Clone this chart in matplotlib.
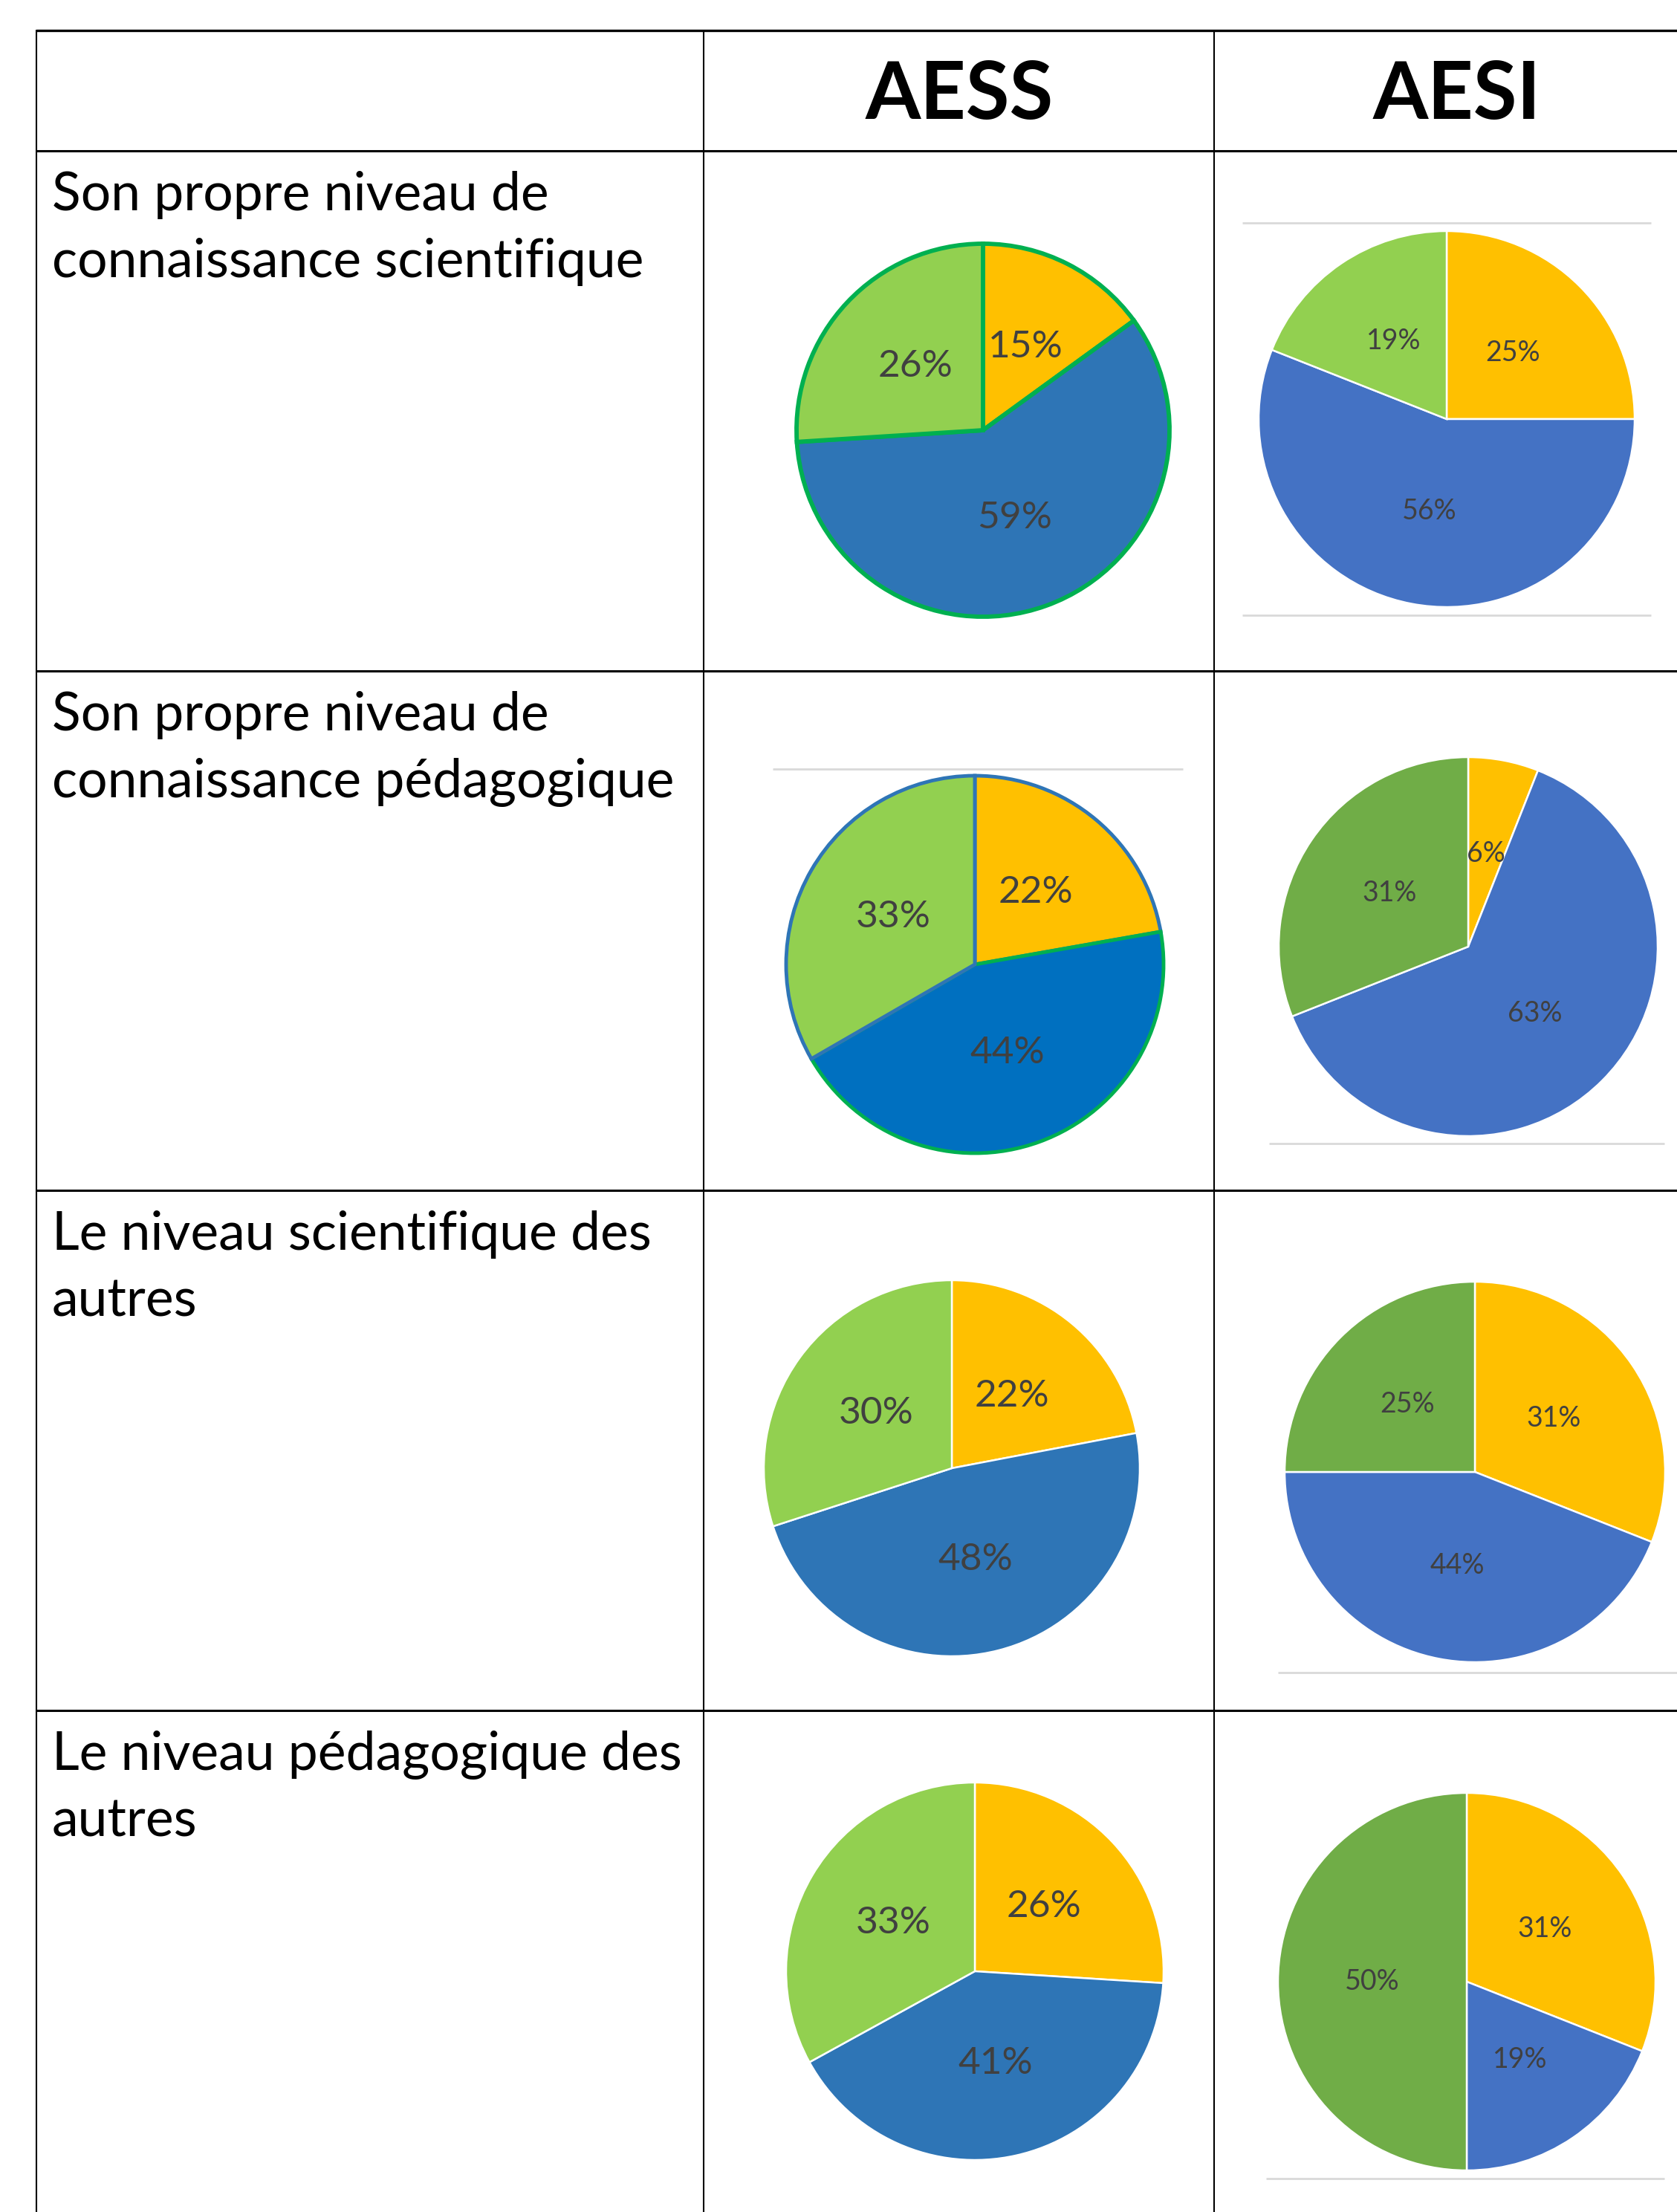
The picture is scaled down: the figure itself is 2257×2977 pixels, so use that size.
import matplotlib
matplotlib.use("Agg")
import matplotlib.pyplot as plt

W, H = 2257, 2977
DPI = 100

columns = ["AESS", "AESI"]
row_labels = [
    ["Son propre niveau de", "connaissance scientifique"],
    ["Son propre niveau de", "connaissance pédagogique"],
    ["Le niveau scientifique des", "autres"],
    ["Le niveau pédagogique des", "autres"],
]
# values in order: yellow, blue, green (clockwise from 12 o'clock)
aess_values = [[15, 59, 26], [22, 44, 33], [22, 48, 30], [26, 41, 33]]
aesi_values = [[25, 56, 19], [6, 63, 31], [31, 44, 25], [31, 19, 50]]

aess_colors = [
    ["#FFC000", "#2E75B6", "#92D050"],
    ["#FFC000", "#0070C0", "#92D050"],
    ["#FFC000", "#2E75B6", "#92D050"],
    ["#FFC000", "#2E75B6", "#92D050"],
]
aesi_colors = [
    ["#FFC000", "#4472C4", "#92D050"],
    ["#FFC000", "#4472C4", "#70AD47"],
    ["#FFC000", "#4472C4", "#70AD47"],
    ["#FFC000", "#4472C4", "#70AD47"],
]

FONT = ["Lato", "DejaVu Sans"]
plt.rcParams["font.family"] = FONT

fig = plt.figure(figsize=(W / DPI, H / DPI), dpi=DPI)
fig.patch.set_facecolor("white")
ax0 = fig.add_axes([0, 0, 1, 1])
ax0.set_xlim(0, W)
ax0.set_ylim(H, 0)
ax0.axis("off")

# table grid
x_left, x_c1, x_c2, x_right = 49, 947, 1634, 2300
row_tops = [203, 903, 1602, 2302]
ax0.plot([x_left, x_right], [41, 41], color="black", lw=2.4, solid_capstyle="butt")
for y in row_tops:
    ax0.plot([x_left, x_right], [y, y], color="black", lw=2.2, solid_capstyle="butt")
for x in [x_left, x_c1, x_c2]:
    ax0.plot([x, x], [40, H], color="black", lw=1.5, solid_capstyle="butt")

# headers
for name, cx in zip(columns, [1291, 1961]):
    ax0.text(cx, 160, name, ha="center", va="baseline", fontsize=77,
             fontweight="bold", color="black")

# row labels
for i, lines in enumerate(row_labels):
    for j, line in enumerate(lines):
        ax0.text(70, row_tops[i] + 80 + 90 * j, line, ha="left", va="baseline",
                 fontsize=51.5, color="black")

# light gray chart-area borders
gray_lines = [
    (1672, 2222, 300), (1672, 2222, 828),
    (1040, 1592, 1035),
    (1708, 2240, 1539),
    (1720, 2257, 2251),
    (1704, 2240, 2932),
]
for x0, x1, y in gray_lines:
    ax0.plot([x0, x1], [y, y], color="#D9D9D9", lw=2, solid_capstyle="butt")

aess_centers = [(1323, 579, 251), (1312, 1298, 254), (1281, 1976, 253), (1312, 2653, 254)]
aesi_centers = [(1947, 564, 253), (1976, 1274, 255), (1985, 1981, 256), (1974, 2667, 254)]


def draw_pie(cx, cy, r, values, colors, fs, edges, lw):
    ax = fig.add_axes([(cx - r) / W, 1 - (cy + r) / H, 2 * r / W, 2 * r / H])
    wedges, texts = ax.pie(values, colors=colors, startangle=90, counterclock=False,
                           radius=1, labels=[f"{v}%" for v in values],
                           labeldistance=0.5,
                           wedgeprops=dict(linewidth=lw, edgecolor="white"),
                           textprops=dict(fontsize=fs, color="#404040"))
    for w, ec in zip(wedges, edges):
        w.set_edgecolor(ec)
        w.set_linewidth(lw)
        w.set_clip_on(False)
    for t in texts:
        t.set_ha("center")
        t.set_va("center")
    ax.set_xlim(-1, 1)
    ax.set_ylim(-1, 1)
    ax.axis("off")
    return ax


aess_edges = [
    (["#00B050"] * 3, 4.2),
    (["#2E75B6", "#00B050", "#2E75B6"], 3.5),
    (["white"] * 3, 1.8),
    (["white"] * 3, 1.8),
]

for i in range(4):
    cx, cy, r = aess_centers[i]
    edges, lw = aess_edges[i]
    draw_pie(cx, cy, r, aess_values[i], aess_colors[i], 37, edges, lw)
    cx, cy, r = aesi_centers[i]
    draw_pie(cx, cy, r, aesi_values[i], aesi_colors[i], 27, ["white"] * 3, 1.8)

fig.savefig("out.png", dpi=DPI, facecolor="white")
